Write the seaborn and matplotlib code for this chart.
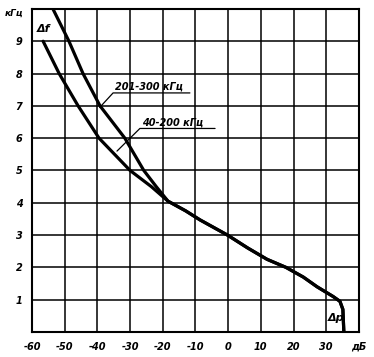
import numpy as np
import pandas as pd
import matplotlib
matplotlib.use('Agg')
import matplotlib.pyplot as plt
import seaborn as sns

# Curve data (x = attenuation dB, y = frequency deviation kHz)
upper_x = [-53.6, -48.7, -44.4, -39.2, -31.6, -25.8, -22.0]
upper_y = [10.0, 9.0, 8.0, 7.0, 6.0, 5.0, 4.5]
lower_x = [-56.6, -51.7, -45.9, -39.5, -30.0, -23.5]
lower_y = [9.0, 8.0, 7.0, 6.0, 5.0, 4.5]
common_x = [-18.4, -13.0, -8.6, -0.2, 6.0, 11.9, 17.7, 23.0, 27.2, 32.1, 34.2, 35.1, 35.4]
common_y = [4.05, 3.75, 3.47, 3.0, 2.6, 2.25, 2.0, 1.7, 1.4, 1.1, 0.95, 0.7, 0.0]

x_ticks = [-60, -50, -40, -30, -20, -10, 0, 10, 20, 30, 40]
x_labels = ['-60', '-50', '-40', '-30', '-20', '-10', '0', '10', '20', '30', 'дБ']
y_ticks = [1, 2, 3, 4, 5, 6, 7, 8, 9]

df = pd.concat([
    pd.DataFrame({'dp': upper_x + common_x, 'df': upper_y + common_y, 'band': '201-300 кГц'}),
    pd.DataFrame({'dp': lower_x + common_x, 'df': lower_y + common_y, 'band': '40-200 кГц'}),
])

sns.set_style('white')
plt.rcParams['font.family'] = ['DejaVu Sans']
plt.rcParams['text.color'] = 'black'
plt.rcParams['xtick.color'] = 'black'
plt.rcParams['ytick.color'] = 'black'

fig = plt.figure(figsize=(3.74, 3.57), dpi=100)
ax = fig.add_axes([0.0856, 0.070, 0.874, 0.905])

sns.lineplot(data=df, x='dp', y='df', hue='band', sort=False, estimator=None,
             palette=['black', 'black'], linewidth=2.3, legend=False, ax=ax)
for ln in ax.get_lines():
    ln.set_solid_joinstyle('round')

ax.set_xlim(-60, 40)
ax.set_ylim(0, 10)
ax.set_xticks(x_ticks)
ax.set_xticklabels(x_labels)
ax.set_yticks(y_ticks)
ax.set_yticklabels([str(t) for t in y_ticks])
ax.set_yticks(range(0, 11), minor=True)
ax.grid(True, which='both', color='black', linewidth=1.1)
ax.tick_params(length=0, labelsize=7, pad=7)
for lab in ax.get_xticklabels() + ax.get_yticklabels():
    lab.set_fontstyle('italic')
    lab.set_fontweight('bold')
for s in ax.spines.values():
    s.set_color('black')
    s.set_linewidth(1.5)
ax.set_xlabel('')
ax.set_ylabel('')

# curve labels with leader lines
ax.plot([-39.3, -35.2, -11.7], [6.95, 7.4, 7.4], color='black', lw=0.9)
ax.text(-34.5, 7.5, '201-300 кГц', fontsize=7, style='italic', fontweight='bold')
ax.plot([-34.0, -27.0, -4.0], [5.6, 6.3, 6.3], color='black', lw=0.9)
ax.text(-26.5, 6.4, '40-200 кГц', fontsize=7, style='italic', fontweight='bold')

ax.text(-58.5, 9.3, 'Δf', fontsize=8, style='italic', fontweight='bold')
ax.text(30.5, 0.35, 'Δp', fontsize=8, style='italic', fontweight='bold')
fig.text(0.012, 0.955, 'кГц', fontsize=6.5, style='italic', fontweight='bold')

fig.savefig('out.png', dpi=100, facecolor='white')
